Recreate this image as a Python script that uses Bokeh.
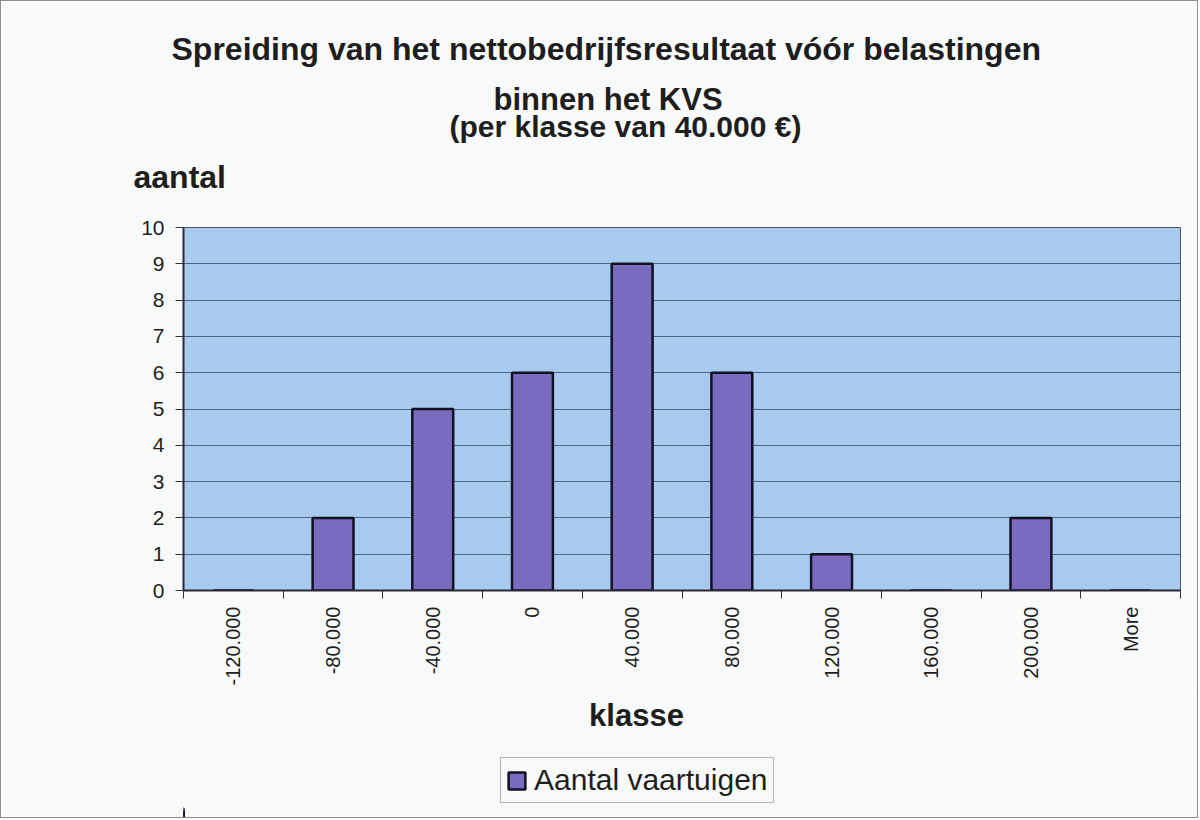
import math
from bokeh.plotting import figure
from bokeh.layouts import column
from bokeh.models import (Range1d, FixedTicker, Title, Label, Legend, LegendItem,
                          ColumnDataSource)
from bokeh.embed import file_html
from bokeh.resources import INLINE

# ---- data ----
categories = ["-120.000", "-80.000", "-40.000", "0", "40.000", "80.000",
              "120.000", "160.000", "200.000", "More"]
counts = [0, 2, 5, 6, 9, 6, 1, 0, 2, 0]
y_ticks = [0, 1, 2, 3, 4, 5, 6, 7, 8, 9, 10]
title_lines = ["Spreiding van het nettobedrijfsresultaat vóór belastingen",
               "binnen het KVS",
               "(per klasse van 40.000 €)"]
y_title = "aantal"
x_title = "klasse"
series_name = "Aantal vaartuigen"

FONT = "Liberation Sans"
TEXT = "#1e1e1e"
BG = "#f8f9f9"
BAR_FILL = "#7a6bc0"
BAR_LINE = "#111122"

n = len(categories)
centers = [i + 0.5 for i in range(n)]
bounds = [float(i) for i in range(n + 1)]

src = ColumnDataSource(dict(x=centers, top=counts, cat=categories))

W = 1196
FL, FR = 182, 17   # frame margins (left, right)
p = figure(width=W, height=689, output_backend="svg", toolbar_location=None,
           x_range=Range1d(0, n), y_range=Range1d(0, 10),
           min_border_left=FL, min_border_right=FR, min_border_top=226,
           min_border_bottom=100)
p.background_fill_color = "#a7caee"
p.border_fill_color = BG
p.outline_line_color = "#555566"
p.outline_line_width = 1

r = p.vbar(x="x", top="top", width=0.41, bottom=0, source=src,
           fill_color=BAR_FILL, line_color=BAR_LINE, line_width=2.5)

# x axis
xa = p.xaxis[0]
xa.ticker = FixedTicker(ticks=centers, minor_ticks=bounds)
xa.major_label_overrides = {c: lab for c, lab in zip(centers, categories)}
xa.major_label_orientation = math.pi / 2
xa.major_tick_line_color = None
xa.major_tick_out = 8
xa.major_tick_in = 0
xa.minor_tick_out = 8
xa.minor_tick_in = 0
xa.minor_tick_line_color = "#333333"
xa.axis_line_color = "#2a2a38"
xa.axis_line_width = 2
xa.major_label_text_font = FONT
xa.major_label_text_font_size = "20px"
xa.major_label_text_color = TEXT
xa.major_label_standoff = 8

# y axis
ya = p.yaxis[0]
ya.ticker = FixedTicker(ticks=y_ticks)
ya.minor_tick_line_color = None
ya.major_tick_out = 8
ya.major_tick_in = 0
ya.major_tick_line_color = "#333333"
ya.axis_line_color = "#2a2a38"
ya.axis_line_width = 2
ya.major_label_text_font = FONT
ya.major_label_text_font_size = "21px"
ya.major_label_text_color = TEXT
ya.major_label_standoff = 11

p.xgrid.grid_line_color = None
p.ygrid.ticker = FixedTicker(ticks=y_ticks[1:])
p.ygrid.grid_line_color = "#4f6580"
p.ygrid.grid_line_width = 1

# text panels above the frame (first added is nearest the frame)
p.add_layout(Title(text=y_title, align="left", offset=-50, standoff=66,
                   text_font=FONT, text_font_size="32px", text_font_style="bold",
                   text_color=TEXT), "above")
title_sizes = ["32px", "31px", "30px"]
title_offsets = [-12, 310, 266]
title_standoffs = [11, 14, -38]
for i in [2, 1, 0]:
    p.add_layout(Title(text=title_lines[i], align="left", offset=title_offsets[i],
                       standoff=title_standoffs[i], text_font=FONT,
                       text_font_size=title_sizes[i], text_font_style="bold",
                       text_color=TEXT), "above")

# ---- lower strip: axis title and legend (frame aligned with the main frame) ----
H2 = 127
p2 = figure(width=W, height=H2, output_backend="svg", toolbar_location=None,
            x_range=Range1d(FL, W - FR), y_range=Range1d(0, H2),
            x_axis_location=None, y_axis_location=None, min_border=0)
p2.grid.visible = False
p2.outline_line_color = None
p2.background_fill_color = BG
p2.border_fill_color = BG

p2.add_layout(Label(x=635, y=102, text=x_title, text_align="center",
                    text_baseline="middle", text_font=FONT, text_font_size="31px",
                    text_font_style="bold", text_color=TEXT))

# same series in the strip: its bars fall outside this strip's range, it only feeds the legend
swatch = p2.vbar(x="x", top="top", width=0.41, source=src, fill_color=BAR_FILL,
                 line_color=BAR_LINE, line_width=2.5)
legend = Legend(items=[LegendItem(label=series_name, renderers=[swatch])],
                location=(317, 14), orientation="horizontal",
                label_text_font=FONT, label_text_font_size="30px",
                label_text_color=TEXT, border_line_color="#707070",
                background_fill_color=BG, background_fill_alpha=1.0,
                glyph_width=21, glyph_height=21, padding=5, spacing=4,
                label_standoff=7, margin=0)
p2.add_layout(legend)

layout = column(p, p2, spacing=0)
layout.styles = {"border": "1px solid #8c8c8c"}

open("out.html", "w").write(file_html(layout, INLINE))
